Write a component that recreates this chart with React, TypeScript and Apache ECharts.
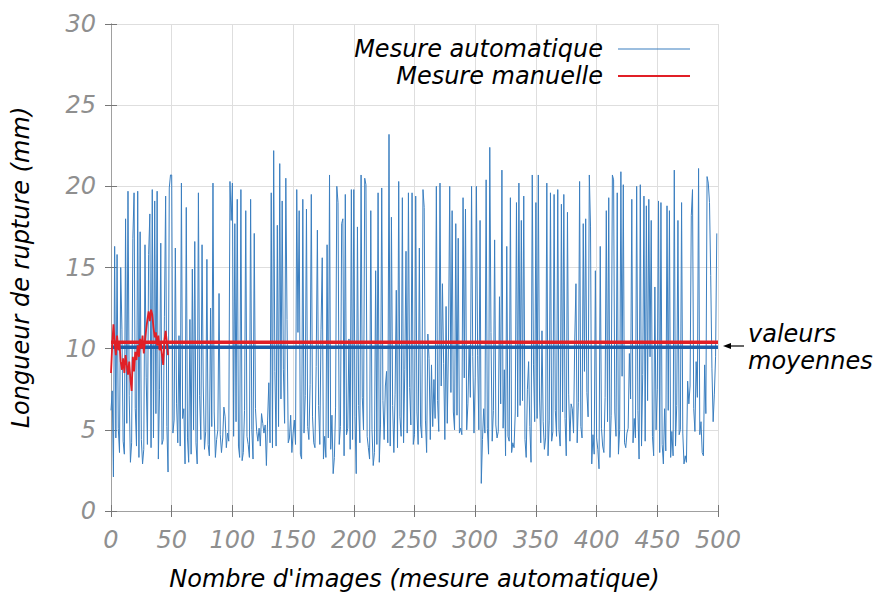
import React, { useEffect, useRef } from "react";
import * as echarts from "echarts";

const autoValues: number[] = [
  // 0-49
  6.2, 7.4, 2.1, 16.3, 4.5, 15.8, 5.1, 3.6, 15.0, 11.2, 4.3, 3.5, 18.0, 5.4, 19.7, 7.1, 3.0, 4.2, 16.8, 19.6, 6.3, 4.0, 19.7, 3.3, 17.2, 4.4, 2.9, 3.8, 16.4, 8.2, 4.1, 15.8, 18.3, 3.9, 19.8, 4.5, 19.1, 6.0, 19.7, 3.2, 7.5, 16.5, 4.1, 4.4, 12.0, 19.4, 5.2, 2.4, 19.9, 20.7,
  // 50-99
  20.7, 4.8, 5.6, 16.2, 6.6, 4.2, 10.8, 4.0, 20.2, 5.7, 6.3, 2.9, 18.7, 4.5, 3.0, 11.8, 3.5, 14.9, 5.0, 16.6, 4.2, 2.9, 19.6, 7.1, 4.4, 16.4, 7.7, 3.8, 4.9, 15.5, 4.1, 3.4, 12.5, 5.2, 20.2, 6.1, 3.3, 4.4, 5.0, 13.4, 4.7, 3.6, 4.5, 6.4, 5.8, 3.9, 4.8, 4.3, 20.3, 17.9,
  // 100-149
  20.2, 4.6, 17.7, 5.5, 19.2, 4.0, 3.3, 19.8, 3.1, 3.6, 6.2, 18.5, 4.6, 4.1, 3.3, 19.2, 5.0, 3.2, 17.1, 6.3, 4.9, 4.3, 5.1, 4.0, 6.0, 5.4, 4.8, 5.3, 2.8, 5.6, 7.9, 4.2, 19.6, 3.9, 22.2, 8.6, 4.0, 17.6, 5.2, 21.4, 6.9, 19.1, 8.7, 5.4, 20.5, 11.8, 4.2, 4.5, 5.9, 3.6,
  // 150-199
  4.8, 5.6, 4.1, 19.8, 11.0, 18.5, 3.5, 3.2, 19.2, 4.8, 7.1, 18.6, 5.2, 4.4, 7.8, 19.5, 5.8, 4.2, 3.9, 8.9, 17.3, 6.5, 4.1, 11.2, 15.6, 3.2, 4.6, 3.3, 16.4, 4.5, 20.7, 3.8, 5.9, 2.3, 3.3, 6.4, 20.0, 19.0, 4.1, 5.2, 17.7, 18.0, 3.4, 19.5, 4.7, 5.1, 10.6, 3.8, 19.8, 4.4,
  // 200-249
  19.8, 5.8, 2.3, 17.5, 6.5, 4.2, 20.7, 7.0, 5.0, 20.5, 20.1, 4.6, 3.9, 3.2, 18.5, 5.0, 2.8, 3.6, 14.8, 4.1, 19.6, 3.0, 5.3, 19.9, 6.8, 4.4, 7.7, 8.6, 4.2, 23.2, 4.0, 18.1, 6.5, 3.6, 7.2, 13.6, 3.9, 20.3, 5.8, 4.6, 19.3, 4.2, 8.7, 16.0, 4.8, 19.6, 7.6, 5.3, 19.6, 4.1,
  // 250-299
  4.7, 19.4, 6.1, 4.1, 16.2, 5.3, 4.5, 19.8, 18.7, 5.6, 3.6, 10.9, 9.4, 4.4, 9.0, 5.2, 8.1, 5.7, 20.0, 6.8, 4.9, 20.2, 7.7, 14.0, 9.1, 4.4, 12.6, 5.4, 10.3, 20.0, 7.3, 18.5, 6.1, 5.0, 17.7, 5.9, 16.8, 4.8, 5.1, 4.7, 19.3, 8.2, 18.6, 5.0, 6.6, 10.2, 7.0, 20.0, 9.5, 4.8,
  // 300-349
  8.2, 20.0, 9.6, 5.0, 17.9, 1.7, 4.4, 6.3, 4.8, 20.4, 5.1, 3.5, 22.4, 11.0, 4.3, 6.2, 16.7, 5.3, 4.5, 4.9, 13.2, 6.6, 21.0, 5.1, 8.7, 3.4, 16.3, 4.6, 4.3, 19.3, 3.6, 4.2, 3.9, 6.1, 19.0, 5.8, 20.2, 6.5, 17.9, 6.8, 19.4, 4.4, 3.3, 7.5, 9.2, 5.2, 3.0, 20.7, 9.0, 5.5,
  // 350-399
  19.0, 5.7, 20.7, 6.9, 4.2, 11.1, 5.5, 3.8, 4.5, 20.2, 3.4, 5.6, 19.6, 4.3, 4.9, 19.5, 6.2, 4.6, 19.8, 5.0, 4.0, 18.9, 6.1, 19.5, 5.7, 3.4, 18.4, 7.2, 4.3, 6.6, 6.3, 4.8, 10.5, 14.0, 4.2, 6.7, 20.3, 5.2, 4.5, 17.7, 8.6, 18.0, 7.3, 5.8, 20.7, 17.5, 2.9, 4.7, 3.5, 14.8,
  // 400-449
  4.5, 3.8, 2.6, 16.3, 5.1, 4.0, 3.6, 7.0, 18.5, 5.5, 19.3, 3.3, 5.9, 20.7, 20.4, 6.1, 4.6, 19.6, 3.5, 5.0, 20.9, 8.3, 20.1, 4.2, 3.9, 4.8, 5.1, 9.7, 6.9, 19.2, 4.2, 5.7, 4.5, 20.0, 6.2, 3.2, 20.1, 4.0, 8.4, 19.4, 4.3, 18.8, 6.8, 19.2, 9.5, 17.9, 4.6, 3.4, 13.8, 5.0,
  // 450-499
  7.5, 19.1, 3.6, 19.0, 4.1, 2.9, 6.3, 3.7, 18.8, 6.2, 18.5, 3.3, 4.9, 3.4, 21.0, 4.0, 6.5, 17.9, 4.7, 5.0, 19.0, 4.8, 2.9, 3.4, 3.0, 8.0, 6.6, 7.7, 18.2, 19.8, 6.3, 4.9, 9.2, 7.0, 21.1, 4.7, 5.5, 3.6, 3.4, 9.0, 6.0, 20.6, 20.2, 19.0, 14.5, 8.8, 5.5, 7.2, 9.5, 17.1,
];

const manualValues: number[] = [
  8.5, 10.2, 11.5, 10.4, 9.6, 10.8, 9.9, 10.3, 9.2, 8.7, 9.4, 8.5, 9.6, 9.0, 8.4, 9.2, 8.1, 7.4, 9.5, 8.6,
  9.8, 9.3, 10.2, 9.5, 10.6, 10.0, 10.8, 9.7, 10.5, 11.2, 11.8, 12.3, 11.7, 12.4, 12.1, 11.3, 10.7, 11.0, 10.2, 10.8,
  9.9, 10.3, 9.6, 9.0, 10.5, 11.1, 10.4, 9.6,
];

const MEAN_AUTO = 10.08;
const MEAN_MANUAL = 10.4;
const X_MIN = 0;
const X_MAX = 500;
const X_STEP = 50;
const Y_MIN = 0;
const Y_MAX = 30;
const Y_STEP = 5;

const NAME_AUTO = "Mesure automatique";
const NAME_MANUAL = "Mesure manuelle";
const X_TITLE = "Nombre d'images (mesure automatique)";
const Y_TITLE = "Longueur de rupture (mm)";
const NOTE_LINES = ["valeurs", "moyennes"];

const FONT = "DejaVu Sans";
const FS = 24;

export default function App() {
  const ref = useRef<HTMLDivElement>(null);
  useEffect(() => {
    if (!ref.current) return;
    const chart = echarts.init(ref.current, undefined, { renderer: "svg" });
    const tickLabel = {
      color: "#8f8f8f",
      fontStyle: "italic",
      fontFamily: FONT,
      fontSize: FS,
    };
    const blackText = { color: "#000", fontStyle: "italic", fontFamily: FONT, fontSize: FS };
    const frameLine = { show: true, lineStyle: { color: "#a0a0a0", width: 1 } };
    const innerTick = { show: true, inside: true, length: 6, lineStyle: { color: "#777" } };
    const grid = {
      left: 111,
      right: 157,
      top: 24,
      bottom: 81,
      containLabel: false,
      outerBoundsMode: "none",
    };
    chart.setOption({
      animation: false,
      backgroundColor: "#ffffff",
      grid,
      legend: [
        {
          data: [NAME_AUTO],
          right: 180,
          top: 32,
          align: "right",
          icon: "rect",
          itemWidth: 72,
          itemHeight: 1,
          textStyle: { ...blackText, padding: [0, 10, 0, 0] },
        },
        {
          data: [NAME_MANUAL],
          right: 180,
          top: 59,
          align: "right",
          icon: "rect",
          itemWidth: 72,
          itemHeight: 2,
          textStyle: { ...blackText, padding: [0, 10, 0, 0] },
        },
      ],
      xAxis: [
        {
          type: "value",
          min: X_MIN,
          max: X_MAX,
          interval: X_STEP,
          position: "bottom",
          name: X_TITLE,
          nameLocation: "middle",
          nameGap: 56,
          nameTextStyle: blackText,
          axisLine: frameLine,
          axisTick: innerTick,
          axisLabel: { ...tickLabel, margin: 17 },
          splitLine: { show: true, lineStyle: { color: "#dedede", width: 1 } },
        },
        {
          type: "value",
          min: X_MIN,
          max: X_MAX,
          interval: X_STEP,
          position: "top",
          axisLine: frameLine,
          axisTick: innerTick,
          axisLabel: { show: false },
          splitLine: { show: false },
        },
      ],
      yAxis: [
        {
          type: "value",
          min: Y_MIN,
          max: Y_MAX,
          interval: Y_STEP,
          position: "left",
          name: Y_TITLE,
          nameLocation: "middle",
          nameGap: 78,
          nameRotate: 90,
          nameTextStyle: blackText,
          axisLine: frameLine,
          axisTick: innerTick,
          axisLabel: { ...tickLabel, margin: 15 },
          splitLine: { show: true, lineStyle: { color: "#dedede", width: 1 } },
        },
        {
          type: "value",
          min: Y_MIN,
          max: Y_MAX,
          interval: Y_STEP,
          position: "right",
          axisLine: frameLine,
          axisTick: innerTick,
          axisLabel: { show: false },
          splitLine: { show: false },
        },
      ],
      series: [
        {
          name: NAME_AUTO,
          type: "line",
          data: autoValues.map((v, i) => [i, v]),
          showSymbol: false,
          color: "#3b7fc0",
          lineStyle: { width: 1, color: "#3b7fc0" },
          z: 2,
        },
        {
          name: "mean-auto",
          type: "line",
          data: [[X_MIN, MEAN_AUTO], [X_MAX, MEAN_AUTO]],
          showSymbol: false,
          lineStyle: { width: 3.5, color: "#1c5ea8" },
          z: 3,
        },
        {
          name: "mean-manual",
          type: "line",
          data: [[X_MIN, MEAN_MANUAL], [X_MAX, MEAN_MANUAL]],
          showSymbol: false,
          lineStyle: { width: 3.5, color: "#e11f26" },
          z: 3,
        },
        {
          name: NAME_MANUAL,
          type: "line",
          data: manualValues.map((v, i) => [i, v]),
          showSymbol: false,
          color: "#e11f26",
          lineStyle: { width: 1.8, color: "#e11f26" },
          z: 4,
        },
      ],
      graphic: [
        {
          type: "text",
          left: 748,
          top: 322,
          style: { text: NOTE_LINES[0], fill: "#000", font: `italic ${FS}px "${FONT}"` },
        },
        {
          type: "text",
          left: 748,
          top: 349,
          style: { text: NOTE_LINES[1], fill: "#000", font: `italic ${FS}px "${FONT}"` },
        },
        {
          type: "line",
          shape: { x1: 726, y1: 346, x2: 744, y2: 346 },
          style: { stroke: "#000", lineWidth: 1.2 },
        },
        {
          type: "polygon",
          shape: { points: [[723, 346], [731, 343], [731, 349]] },
          style: { fill: "#000" },
        },
      ],
    });
    return () => chart.dispose();
  }, []);
  return (
    <div
      ref={ref}
      style={{ position: "fixed", left: 0, top: 0, width: 875, height: 592, background: "#fff" }}
    />
  );
}
